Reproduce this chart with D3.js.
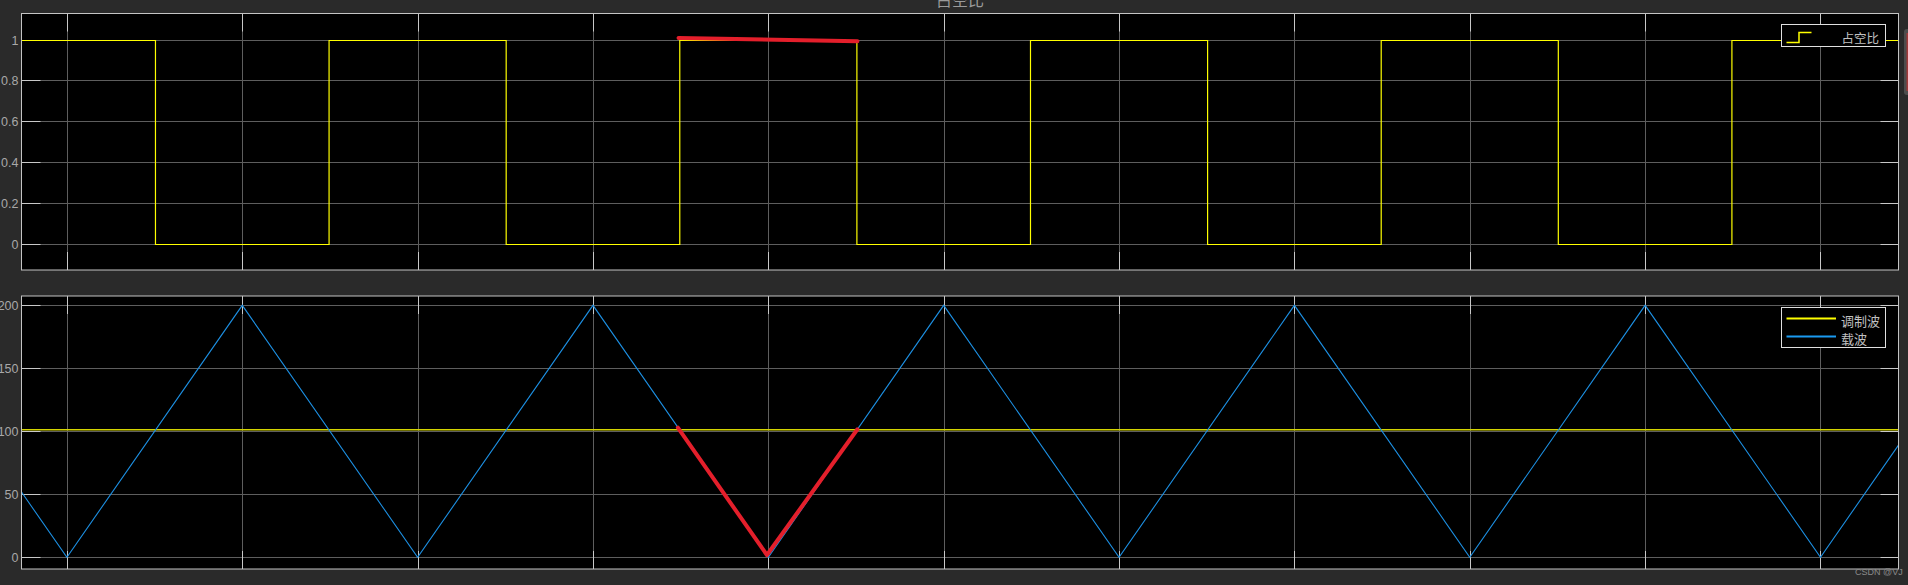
<!DOCTYPE html>
<html><head><meta charset="utf-8">
<script src="https://cdn.jsdelivr.net/npm/d3@7"></script>
<style>
html,body{margin:0;padding:0;background:#2a2a2a;overflow:hidden}
svg{display:block}
</style></head>
<body>
<svg id="c" width="1908" height="585"></svg>
<script>
// ---- data ----
const title = "占空比";
const gridTimes = [0,1,2,3,4,5,6,7,8,9,10];
const timeRange = [-0.259, 10.445];
const dutyTicks = [0, 0.2, 0.4, 0.6, 0.8, 1];
const dutyRange = [-0.125, 1.127];
const waveTicks = [0, 50, 100, 150, 200];
const waveRange = [-9.3, 207.4];
// duty cycle (step) series
const dutyT = [-0.259, 0.505, 1.495, 2.505, 3.495, 4.505, 5.495, 6.505, 7.495, 8.505, 9.495, 10.445];
const dutyV = [1, 0, 1, 0, 1, 0, 1, 0, 1, 0, 1, 1];
// carrier (triangle) series
const carrierT = [-0.259, 0, 1, 2, 3, 4, 5, 6, 7, 8, 9, 10, 10.445];
const carrierV = [51.8, 0, 200, 0, 200, 0, 200, 0, 200, 0, 200, 0, 89];
// modulating wave (constant)
const modT = [-0.259, 10.445];
const modV = [101.3, 101.3];
// red hand-drawn annotations
const markTopT = [3.488, 4.508];
const markTopV = [1.008, 0.992];
const markBotT = [3.484, 3.992, 4.508];
const markBotV = [102.9, 1.8, 101.6];
const legendTop = ["占空比"];
const legendBot = ["调制波", "载波"];

// ---- drawing ----
const svg = d3.select("#c");
const L = 21.5, R = 1898.5;
const x = d3.scaleLinear().domain(timeRange).range([L, R]);
const yTop = d3.scaleLinear().domain(dutyRange).range([270, 13.5]);
const yBot = d3.scaleLinear().domain(waveRange).range([569, 296]);

const gridCol = "#5e5e5e", borderCol = "#c4c4c4", tickCol = "#c8c8c8", labCol = "#a8a8a8";
const yellow = "#ffff00", blue = "#1c8ee0", red = "#e41f2b";

function snapY(sel, y) { sel.selectAll(".tick").attr("transform", d => `translate(0,${Math.round(y(d)) + 0.5})`); }
function snapX(sel) { sel.selectAll(".tick").attr("transform", d => `translate(${Math.round(x(d)) + 0.5},0)`); }

function panel(y, yticks, fmt) {
  const [y0, y1] = y.range();
  const g = svg.append("g");
  g.append("rect").attr("x", L).attr("y", y1).attr("width", R - L).attr("height", y0 - y1).attr("fill", "#000");
  g.selectAll(".vg").data(gridTimes).enter().append("line")
    .attr("x1", d => Math.round(x(d)) + 0.5).attr("x2", d => Math.round(x(d)) + 0.5)
    .attr("y1", y1).attr("y2", y0).attr("stroke", gridCol).attr("stroke-width", 1);
  g.selectAll(".hg").data(yticks).enter().append("line")
    .attr("x1", L).attr("x2", R)
    .attr("y1", d => Math.round(y(d)) + 0.5).attr("y2", d => Math.round(y(d)) + 0.5)
    .attr("stroke", gridCol).attr("stroke-width", 1);
  const axL = d3.axisLeft(y).tickValues(yticks).tickSize(-19).tickPadding(22).tickFormat(fmt);
  const gl = g.append("g").attr("transform", `translate(${L},0)`).call(axL);
  gl.select(".domain").remove();
  snapY(gl, y);
  gl.selectAll("line").attr("stroke", tickCol);
  gl.selectAll("text").attr("fill", labCol).attr("x", -3).style("font", "12.5px 'Liberation Sans', Arial, sans-serif");
  const axR = d3.axisRight(y).tickValues(yticks).tickSize(-18).tickFormat("");
  const gr = g.append("g").attr("transform", `translate(${R},0)`).call(axR);
  gr.select(".domain").remove();
  snapY(gr, y);
  gr.selectAll("line").attr("stroke", tickCol);
  const axT = d3.axisTop(x).tickValues(gridTimes).tickSize(-18).tickFormat("");
  const gt = g.append("g").attr("transform", `translate(0,${y1})`).call(axT);
  gt.select(".domain").remove();
  snapX(gt);
  gt.selectAll("line").attr("stroke", tickCol);
  const axB = d3.axisBottom(x).tickValues(gridTimes).tickSize(-18).tickFormat("");
  const gb = g.append("g").attr("transform", `translate(0,${y0})`).call(axB);
  gb.select(".domain").remove();
  snapX(gb);
  gb.selectAll("line").attr("stroke", tickCol);
  return g;
}

const gTop = panel(yTop, dutyTicks, d3.format("~g"));
const gBot = panel(yBot, waveTicks, d3.format("d"));

const defs = svg.append("defs");
defs.append("clipPath").attr("id", "clipT").append("rect").attr("x", L).attr("y", 13.5).attr("width", R - L).attr("height", 256.5);
defs.append("clipPath").attr("id", "clipB").append("rect").attr("x", L).attr("y", 296).attr("width", R - L).attr("height", 273);

// duty step line (drawn above ticks)
const dutyData = dutyT.map((t, i) => [t, dutyV[i]]);
svg.append("path").attr("clip-path", "url(#clipT)")
  .attr("d", d3.line().x(d => x(d[0])).y(d => Math.round(yTop(d[1])) + 0.5).curve(d3.curveStepAfter)(dutyData))
  .attr("fill", "none").attr("stroke", yellow).attr("stroke-width", 1.2);

// carrier & modulating
const carData = carrierT.map((t, i) => [t, carrierV[i]]);
const modData = modT.map((t, i) => [t, modV[i]]);
svg.append("path").attr("clip-path", "url(#clipB)")
  .attr("d", d3.line().x(d => x(d[0])).y(d => yBot(d[1]))(modData))
  .attr("fill", "none").attr("stroke", "#d4d400").attr("stroke-width", 1.5);
svg.append("path").attr("clip-path", "url(#clipB)")
  .attr("d", d3.line().x(d => x(d[0])).y(d => yBot(d[1]))(carData))
  .attr("fill", "none").attr("stroke", blue).attr("stroke-width", 1.1);

// borders
[yTop, yBot].forEach(y => {
  const [y0, y1] = y.range();
  svg.append("rect").attr("x", L).attr("y", y1).attr("width", R - L).attr("height", y0 - y1)
    .attr("fill", "none").attr("stroke", borderCol).attr("stroke-width", 1);
});

// red annotations
svg.append("path")
  .attr("d", d3.line().x(d => x(d[0])).y(d => yTop(d[1]))(markTopT.map((t, i) => [t, markTopV[i]])))
  .attr("fill", "none").attr("stroke", red).attr("stroke-width", 4).attr("stroke-linecap", "round");
svg.append("path")
  .attr("d", d3.line().x(d => x(d[0])).y(d => yBot(d[1]))(markBotT.map((t, i) => [t, markBotV[i]])))
  .attr("fill", "none").attr("stroke", red).attr("stroke-width", 4).attr("stroke-linecap", "round").attr("stroke-linejoin", "round");

// title
svg.append("text").attr("x", 960).attr("y", 5.5).attr("text-anchor", "middle")
  .attr("fill", "#9a9a9a").style("font", "16px 'Noto Sans CJK SC', sans-serif").text(title);

// legends
const lt = svg.append("g");
lt.append("rect").attr("x", 1781.5).attr("y", 24.5).attr("width", 104).attr("height", 22)
  .attr("fill", "#000").attr("stroke", "#e0e0e0").attr("stroke-width", 1);
lt.append("path").attr("d", "M1786.5,42.5H1799V32.5H1811.5").attr("fill", "none").attr("stroke", yellow).attr("stroke-width", 1.5);
lt.append("text").attr("x", 1841.5).attr("y", 37.5).attr("dominant-baseline", "central")
  .attr("fill", "#c0c0c0").style("font", "12.5px 'Noto Sans CJK SC', sans-serif").text(legendTop[0]);

const lb = svg.append("g");
lb.append("rect").attr("x", 1781.5).attr("y", 307.5).attr("width", 104).attr("height", 40)
  .attr("fill", "#000").attr("stroke", "#e0e0e0").attr("stroke-width", 1);
const legCols = [yellow, "#1a9af0"];
const legY = [318.5, 336.5];
legendBot.forEach((name, i) => {
  lb.append("line").attr("x1", 1786.5).attr("x2", 1836).attr("y1", legY[i]).attr("y2", legY[i])
    .attr("stroke", legCols[i]).attr("stroke-width", 1.8);
  lb.append("text").attr("x", 1841).attr("y", legY[i] + 2).attr("dominant-baseline", "central")
    .attr("fill", "#c0c0c0").style("font", "13px 'Noto Sans CJK SC', sans-serif").text(name);
});

// scrollbar fragment at right edge
svg.append("rect").attr("x", 1904).attr("y", 29).attr("width", 8).attr("height", 66).attr("rx", 3)
  .attr("fill", "#4d4d4d");
svg.append("rect").attr("x", 1906.5).attr("y", 33).attr("width", 2).attr("height", 58).attr("fill", "#a03a3a");

// watermark
svg.append("text").attr("x", 1855).attr("y", 575).attr("fill", "#8a8a8a")
  .style("font", "9px 'Liberation Sans', Arial, sans-serif").text("CSDN @VJ");
</script>
</body></html>
